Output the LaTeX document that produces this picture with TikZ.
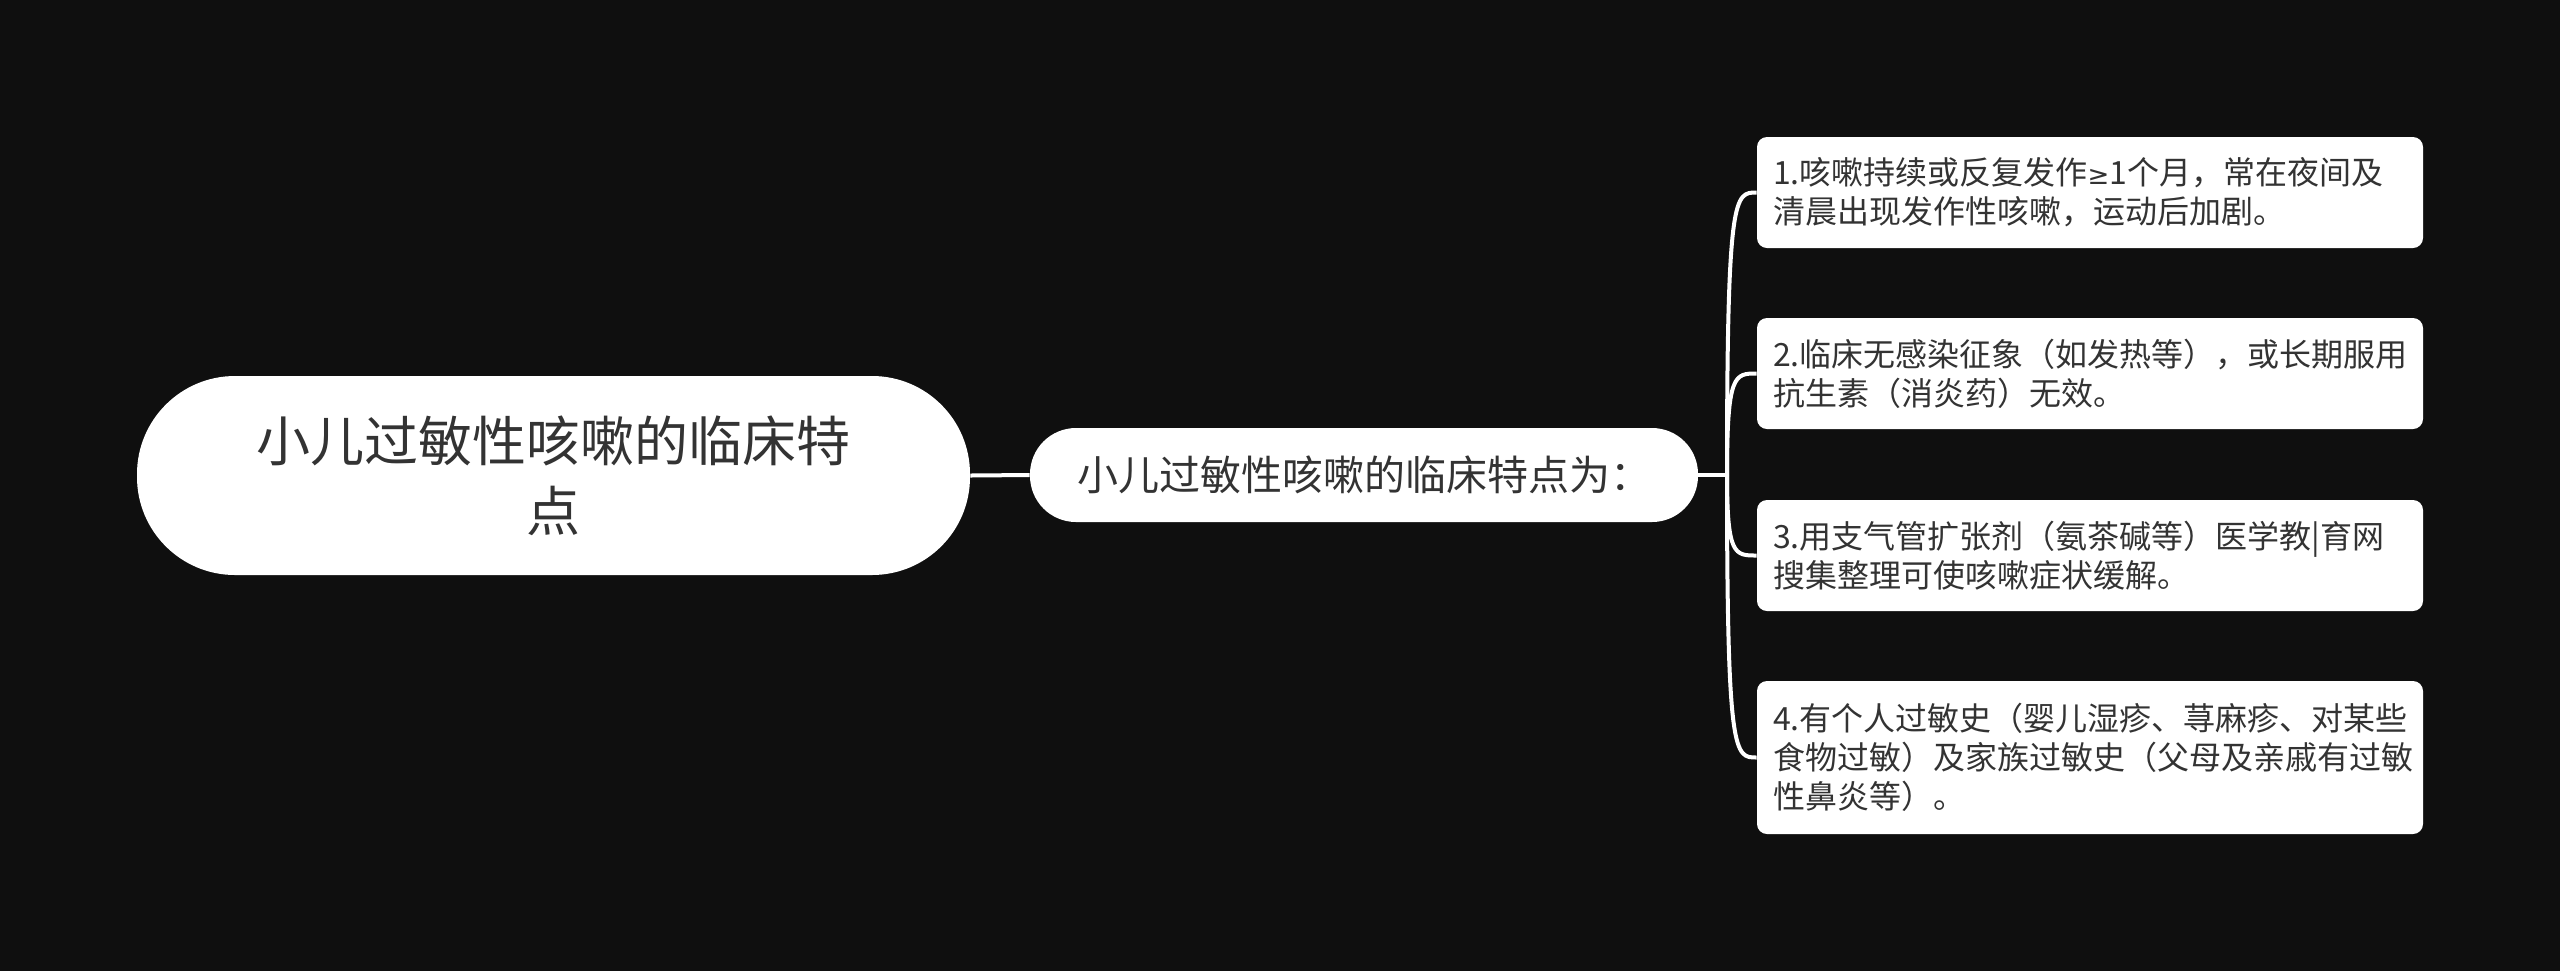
\documentclass[tikz,border=0pt]{standalone}
\usepackage{fontspec}
\newfontfamily\cjk{Noto Sans CJK SC}
\newfontfamily\symf{DejaVu Sans}
\definecolor{bgc}{HTML}{0F0F0F}
\definecolor{txt}{HTML}{333333}
\begin{document}
\begin{tikzpicture}[x=0.5pt,y=-0.5pt,
  conn/.style={draw=white,line width=2pt},
  rootbox/.style={fill=white,rounded corners=49pt,minimum width=416.5pt,minimum height=99.5pt,align=center,inner sep=0pt,text=txt,font=\cjk\fontsize{27}{35}\selectfont},
  midbox/.style={fill=white,rounded corners=23pt,minimum width=334pt,minimum height=47pt,align=center,inner sep=0pt,text=txt,font=\cjk\fontsize{20.5}{25}\selectfont},
  leafbox/.style={fill=white,rounded corners=5pt,minimum width=333pt,text width=317pt,inner xsep=8pt,inner ysep=0pt,align=left,text=txt,font=\cjk\fontsize{16}{19.5}\selectfont}
]
\useasboundingbox[fill=bgc] (0,0) rectangle (2560,971);
\node[rootbox] (root) at (553.5,475.5) {小儿过敏性咳嗽的临床特\\点};
\node[midbox] (mid) at (1364,475) {小儿过敏性咳嗽的临床特点为：};
\node[leafbox,minimum height=55.5pt] (b1) at (2090,192.5) {1.咳嗽持续或反复发作{\symf\fontsize{13}{19.5}\selectfont ≥}1个月，常在夜间及\\清晨出现发作性咳嗽，运动后加剧。};
\node[leafbox,minimum height=55.5pt] (b2) at (2090,373.5) {2.临床无感染征象（如发热等），或长期服用\\抗生素（消炎药）无效。};
\node[leafbox,minimum height=55.5pt] (b3) at (2090,555.5) {3.用支气管扩张剂（氨茶碱等）医学教|育网\\搜集整理可使咳嗽症状缓解。};
\node[leafbox,minimum height=76.5pt] (b4) at (2090,757.5) {4.有个人过敏史（婴儿湿疹、荨麻疹、对某些\\食物过敏）及家族过敏史（父母及亲戚有过敏\\性鼻炎等）。};
\coordinate (j) at (1727,475);
\draw[conn] (root.east) -- (mid.west);
\draw[conn] (mid.east) -- (j);
\foreach \b in {b1,b2,b3,b4}{
  \draw[conn] (j) .. controls (j |- \b.west) and +(-22,0) .. (\b.west);
}
\end{tikzpicture}
\end{document}
